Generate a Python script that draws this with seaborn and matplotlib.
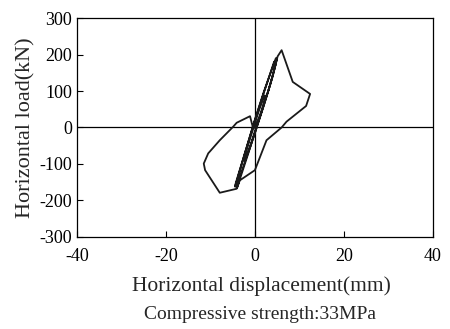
import matplotlib
matplotlib.use("Agg")
import matplotlib.pyplot as plt
import seaborn as sns
import pandas as pd

sns.set_style("ticks")
plt.rcParams["font.family"] = ["Liberation Serif", "DejaVu Serif"]
plt.rcParams["axes.unicode_minus"] = False

# hysteresis curve (displacement mm, load kN)
disp = [0, 1.2, 2.5, 2.2, 1.0, 0.0, -1.2, -2.5, -2.2, -1.0, 0.0,
        1.5, 3.0, 4.6, 4.8, 4.3, 2.0, 0.0, -2.0, -4.3, -4.5, -4.1, -2.0, 0.0,
        2.0, 3.5, 5.0, 4.7, 2.0, 0.0, -2.2, -4.4, -4.0, -2.0, 0.0,
        2.0, 4.0, 5.1, 6.0, 8.5, 12.4, 11.5, 7.1, 6.0, 2.6, 0.0,
        -3.4, -4.1, -7.9, -11.2, -11.5, -10.5, -7.9, -4.9, -4.1, -1.1, -0.5, 0.0]
load = [0, 35, 85, 88, 50, 12, -35, -90, -92, -50, -10,
        45, 100, 170, 185, 180, 95, 20, -60, -152, -162, -160, -85, -15,
        60, 120, 190, 190, 98, 22, -68, -160, -165, -90, -15,
        62, 140, 195, 212, 125, 92, 59, 16, 0, -35, -117,
        -145, -168, -179, -117, -99, -71, -35, 2, 13, 31, 2, 0]

df = pd.DataFrame({"disp": disp, "load": load})

fig, ax = plt.subplots(figsize=(4.5, 3.29), dpi=100)
fig.subplots_adjust(left=0.171, right=0.962, top=0.945, bottom=0.28)

ax.axhline(0, color="black", lw=0.9)
ax.axvline(0, color="black", lw=0.9)
sns.lineplot(data=df, x="disp", y="load", sort=False, estimator=None,
             color="#1a1a1a", lw=1.3, ax=ax)

ax.set_xlim(-40, 40)
ax.set_ylim(-300, 300)
ax.set_xticks([-40, -20, 0, 20, 40])
ax.set_yticks([-300, -200, -100, 0, 100, 200, 300])
ax.tick_params(direction="in", length=4, width=0.8, labelsize=13, colors="black")
ax.tick_params(axis="x", pad=8)
for s in ax.spines.values():
    s.set_linewidth(0.9)
    s.set_color("black")

ax.set_xlabel("Horizontal displacement(mm)", fontsize=15.5, labelpad=8)
ax.xaxis.label.set_x(0.517)
ax.set_ylabel("Horizontal load(kN)", fontsize=16, labelpad=3)
fig.text(0.578, 0.045, "Compressive strength:33MPa", ha="center", va="center", fontsize=14)

fig.savefig("out.png", dpi=100)
